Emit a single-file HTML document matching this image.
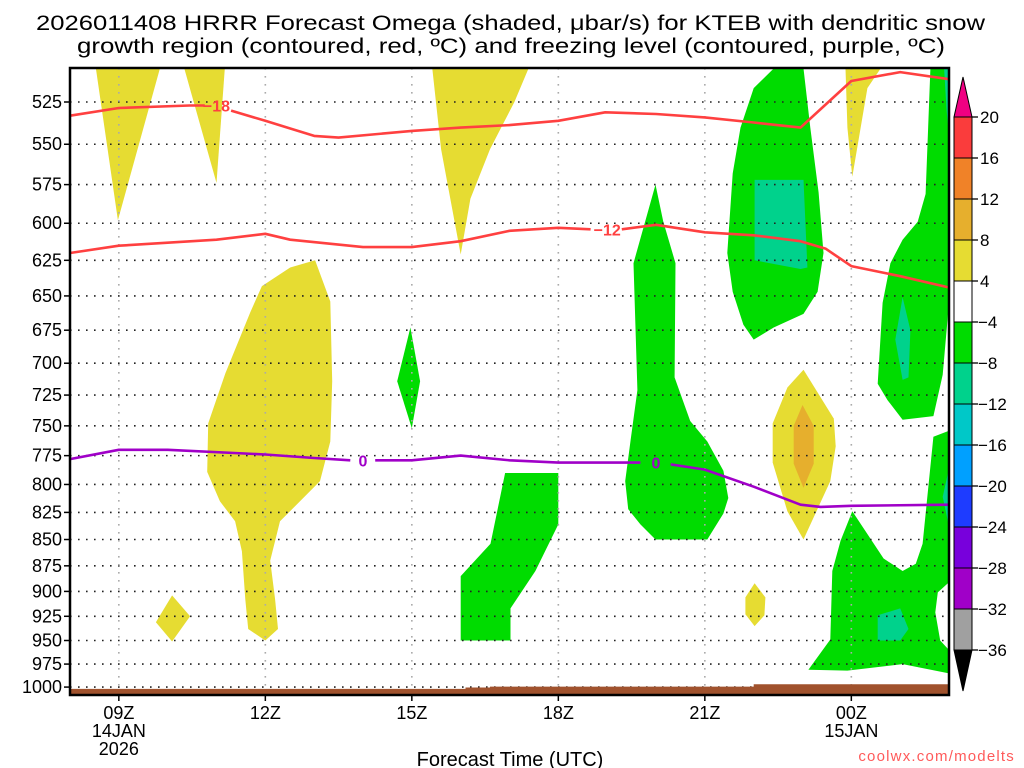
<!DOCTYPE html>
<html><head><meta charset="utf-8">
<style>
html,body{margin:0;padding:0;background:#fff;}
svg{display:block;font-family:"Liberation Sans",sans-serif;}
</style></head>
<body>
<svg id="chart" width="1024" height="768" viewBox="0 0 1024 768" xmlns="http://www.w3.org/2000/svg">
<g id="titles">
<text x="36" y="30" font-size="21" textLength="949" lengthAdjust="spacingAndGlyphs" fill="#000">2026011408 HRRR Forecast Omega (shaded, μbar/s) for KTEB with dendritic snow</text>
<text x="77" y="53" font-size="21" textLength="868" lengthAdjust="spacingAndGlyphs" fill="#000">growth region (contoured, red, ºC) and freezing level (contoured, purple, ºC)</text>
</g>
<g id="shading"></g>
<g id="grid"></g>
<g id="ground"></g>
<g id="contours"></g>
<rect x="70" y="68" width="879" height="627" fill="none" stroke="#000" stroke-width="2.5"/>
<g id="yaxis"></g>
<g id="xaxis"></g>
<text x="510" y="766" font-size="20" text-anchor="middle" fill="#000">Forecast Time (UTC)</text>
<text x="1015" y="761" font-size="15" text-anchor="end" fill="#ff5a5a" letter-spacing="1.2">coolwx.com/modelts</text>
<g id="colorbar"></g>
</svg>
<script>
// ---- data ----
const pressureTicks = [525,550,575,600,625,650,675,700,725,750,775,800,825,850,875,900,925,950,975,1000];
const timeTickHours = [1,4,7,10,13,16];
const timeTickLabels = [["09Z","14JAN","2026"],["12Z"],["15Z"],["18Z"],["21Z"],["00Z","15JAN"]];
const cbLevels = [20,16,12,8,4,-4,-8,-12,-16,-20,-24,-28,-32,-36];
const cbColors = ["#fa3c3c","#f08228","#e6af2d","#e6dc32","#ffffff","#00dc00","#00d28c","#00c8c8","#00a0ff","#1e3cff","#7800dc","#a000c8","#a0a0a0"];
// omega areas [hour since 08Z, hPa]
const yellowAreas = [
 [[0.53,506],[1.84,506],[0.98,598]],
 [[2.34,506],[3.17,506],[3.0,574]],
 [[7.42,506],[9.39,506],[9.1,525],[8.6,553],[8.2,584],[8.0,621],[7.6,553]],
 [[5.02,625],[5.33,654],[5.37,714],[5.33,763],[5.12,797],[4.71,815],[4.30,833],[4.10,870],[4.20,908],[4.26,938],[4.0,950],[3.65,938],[3.59,908],[3.52,861],[3.38,833],[3.07,815],[2.81,789],[2.83,748],[3.18,708],[3.69,662],[3.93,643],[4.51,630]],
 [[2.09,904],[2.46,925],[2.09,951],[1.76,931]],
 [[15.88,506],[16.6,506],[16.33,517],[16.02,570],[15.92,540]],
 [[15.02,705],[15.64,744],[15.68,767],[15.57,797],[15.02,850],[14.69,824],[14.39,781],[14.39,748],[14.69,719]],
 [[14.02,892],[14.24,906],[14.22,924],[14.02,935],[13.83,923],[13.83,906]]
];
const orangeAreas = [
 [[15.0,733],[15.23,750],[15.23,782],[15.02,803],[14.82,782],[14.82,750]]
];
const greenAreas = [
 [[6.97,673],[7.17,714],[7.0,752],[6.70,714]],
 [[8.0,885],[8.61,854],[8.91,790],[10,790],[10,836],[9.53,880],[9.02,917],[9.02,950],[8.0,950]],
 [[11.99,575],[12.15,599],[12.4,627],[12.38,711],[12.7,746],[13.05,763],[13.38,788],[13.48,812],[13.38,826],[13.05,850],[11.99,850],[11.68,836],[11.43,822],[11.37,797],[11.48,762],[11.62,721],[11.54,627]],
 [[14.41,506],[15.02,506],[15.16,540],[15.33,580],[15.43,620],[15.31,647],[15.02,663],[14.41,673],[14.0,682],[13.79,671],[13.57,647],[13.46,620],[13.57,568],[13.73,540],[14.0,517]],
 [[17.62,506],[18,506],[18,655],[17.87,709],[17.68,742],[17.05,745],[16.74,729],[16.54,716],[16.64,655],[16.8,627],[17.05,611],[17.36,599],[17.52,581]],
 [[16.02,824],[16.66,868],[17.05,880],[17.32,873],[17.46,854],[17.68,759],[18,754],[18,891],[17.77,901],[17.72,921],[17.82,950],[18,960],[18,985],[17.05,975],[15.92,982],[15.12,981],[15.57,949],[15.61,880],[15.78,851]]
];
const tealAreas = [
 [[14.02,572],[15.02,572],[15.1,630],[14.96,631],[14.02,625]],
 [[17.05,651],[17.21,675],[17.17,711],[17.05,713],[16.9,682]],
 [[16.54,924],[17.0,917],[17.17,938],[17.0,950],[16.54,950]],
 [[18,786],[17.87,811],[18,838]],
 [[17.9,506],[18,506],[18,545],[17.95,530]]
];
const groundHours = [0,8.1,8.1,8.6,8.6,14,14,18];
const groundPressure = [1002,1002,1000.5,1000.5,999.5,999.5,997,997];
// contour lines (null = label gap)
const minus18Hours = [0,1,2.45,2.76,null,3.3,4,5,5.5,7,8,9,10,10.96,12,13,14,14.96,16,17,18];
const minus18Press = [533,528.5,527,527,null,530,536,545,546,542,540,538.5,536,531,532,534,537,540,513,508,512];
const minus12Hours = [0,1,2,3,4,4.51,6,7,8,9,10,10.66,null,11.3,12,13,14,14.96,15.47,16,17,18];
const minus12Press = [620,615,613,611,607,611,616,616,612,605,603,604,null,604,601,606,608,612,617,629,636,644];
const zeroHours = [0,1,2,4,5,5.74,null,6.25,7,8,9,10,11.68,null,12.3,13,14,14.96,15.37,16,18];
const zeroPress = [778,770,770,774,777,779,null,779,779,775,779,781,781,null,782.5,787,802,818,820,819,818];
const contourLabels = [["−18",3.0,527,"#ff4040"],["−12",11.0,604,"#ff4040"],["0",6.0,779,"#a000c8"],["0",12.0,781,"#a000c8"]];

// ---- axes ----
const X0=70, X1=949, Y0=68, Y1=695, HMAX=18;
const PX_PER_LN=908;
function xs(h){return X0 + h*(X1-X0)/HMAX;}
function ys(p){return 102 + PX_PER_LN*Math.log(p/525);}
const NS="http://www.w3.org/2000/svg";
function mk(tag,attrs,parent){const e=document.createElementNS(NS,tag);for(const k in attrs)e.setAttribute(k,attrs[k]);parent.appendChild(e);return e;}
function poly(pts){return pts.map(p=>xs(p[0]).toFixed(1)+","+ys(p[1]).toFixed(1)).join(" ");}

const shading=document.getElementById('shading');
const clip=mk('clipPath',{id:'pc'},document.getElementById('chart'));
mk('rect',{x:X0,y:Y0,width:X1-X0,height:Y1-Y0},clip);
shading.setAttribute('clip-path','url(#pc)');
function drawAreas(list,color,name){list.forEach(a=>{const e=mk('polygon',{points:poly(a),fill:color},shading);

});}
drawAreas(yellowAreas,'#e6dc32','omega-area-4-8');
drawAreas(orangeAreas,'#e6af2d','omega-area-8-12');
drawAreas(greenAreas,'#00dc00','omega-area-minus4-minus8');
drawAreas(tealAreas,'#00d28c','omega-area-minus8-minus12');

// grid
const grid=document.getElementById('grid');
pressureTicks.forEach(p=>{const l=mk('line',{x1:X0,x2:X1,y1:ys(p),y2:ys(p),stroke:'#222','stroke-width':1.6,'stroke-dasharray':'1.6 6.4'},grid);

});
timeTickHours.forEach(h=>{const l=mk('line',{x1:xs(h),x2:xs(h),y1:Y0,y2:Y1,stroke:'#aaa','stroke-width':1.6,'stroke-dasharray':'1.6 6.4'},grid);

});

// ground
const gpts=[];groundHours.forEach((h,i)=>gpts.push([h,groundPressure[i]]));
let gstr=poly(gpts)+" "+xs(18)+","+Y1+" "+xs(0)+","+Y1;
const gp=mk('polygon',{points:gstr,fill:'#a0522d'},document.getElementById('ground'));



// contours
const cont=document.getElementById('contours');
function drawLine(hs,ps,color,name){let d="",pen=false;hs.forEach((h,i)=>{if(h===null){pen=false;return;}d+=(pen?"L":"M")+xs(h).toFixed(1)+","+ys(ps[i]).toFixed(1);pen=true;});
const e=mk('path',{d:d,fill:'none',stroke:color,'stroke-width':2.6,'stroke-linejoin':'round'},cont);

}
drawLine(minus18Hours,minus18Press,'#ff4040','contour-minus18');
drawLine(minus12Hours,minus12Press,'#ff4040','contour-minus12');
drawLine(zeroHours,zeroPress,'#a000c8','freezing-level-contour');
contourLabels.forEach(c=>{const t=mk('text',{x:xs(c[1]),y:ys(c[2])+6,'font-size':16,'font-weight':'bold','text-anchor':'middle',fill:c[3]},cont);t.textContent=c[0];

});

// y axis
const ya=document.getElementById('yaxis');
pressureTicks.forEach(p=>{const y=ys(p);
mk('line',{x1:X0-6,x2:X0,y1:y,y2:y,stroke:'#000','stroke-width':1.5},ya);
const t=mk('text',{x:62,y:y+6,'font-size':18,'text-anchor':'end',fill:'#000'},ya);t.textContent=p;

});
// x axis
const xa=document.getElementById('xaxis');
timeTickHours.forEach((h,i)=>{const x=xs(h);
mk('line',{x1:x,x2:x,y1:Y1,y2:Y1+6,stroke:'#000','stroke-width':1.5},xa);
timeTickLabels[i].forEach((s,j)=>{const t=mk('text',{x:x,y:719+j*18,'font-size':18,'text-anchor':'middle',fill:'#000'},xa);t.textContent=s;

});});

// colorbar
const cb=document.getElementById('colorbar');
const CBX=954,CBW=18,CBT=117,STEP=41;
mk('polygon',{points:`${CBX},${CBT} ${CBX+CBW},${CBT} ${CBX+CBW/2},${CBT-40}`,fill:'#f00082',stroke:'#000','stroke-width':1},cb);
cbColors.forEach((c,i)=>{const r=mk('rect',{x:CBX,y:CBT+i*STEP,width:CBW,height:STEP,fill:c,stroke:'#000','stroke-width':1},cb);

});
const cbBot=CBT+cbColors.length*STEP;
mk('polygon',{points:`${CBX},${cbBot} ${CBX+CBW},${cbBot} ${CBX+CBW/2},${cbBot+41}`,fill:'#000',stroke:'#000','stroke-width':1},cb);
cbLevels.forEach((v,i)=>{const y=CBT+i*STEP;
mk('line',{x1:CBX+CBW,x2:CBX+CBW+6,y1:y,y2:y,stroke:'#000','stroke-width':1.3},cb);
const t=mk('text',{x:v<0?CBX+CBW+6:CBX+CBW+8,y:y+6,'font-size':17,fill:'#000'},cb);t.textContent=v<0?"−"+(-v):String(v);

});
</script>
</body></html>
